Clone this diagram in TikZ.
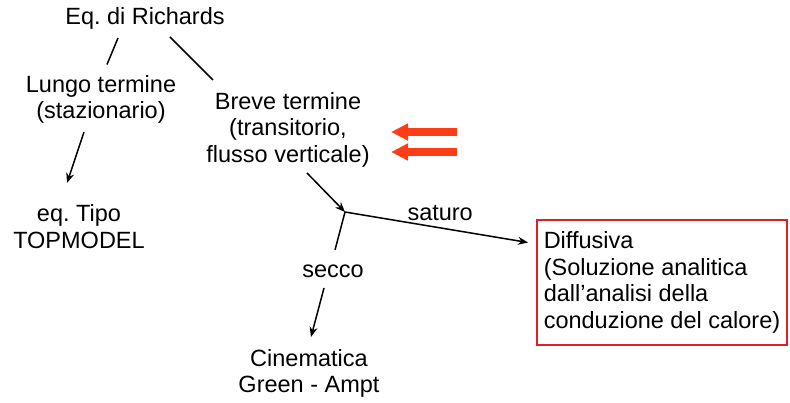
\documentclass[tikz,border=0pt]{standalone}
\usepackage{fontspec}
\setmainfont{Liberation Sans}
\usetikzlibrary{arrows.meta,calc}
\frenchspacing
\definecolor{boxred}{RGB}{222,32,36}
\definecolor{markred}{RGB}{252,62,22}
\tikzset{
  lbl/.style={font=\fontsize{23.5}{26.5}\selectfont, align=center, inner sep=0pt},
  link/.style={line width=1.5pt, black},
  arr/.style={link, -{Stealth[length=10pt,width=8pt]}},
  hilite/.style={line width=8pt, markred, -{Triangle[length=17pt,width=16pt]}},
}
\begin{document}
\begin{tikzpicture}[x=1pt,y=-1pt]
\useasboundingbox (0,0) rectangle (790,403);

% text nodes
\node[lbl] (eq)     at (145,18)    {Eq. di Richards};
\node[lbl] (lungo)  at (101,99.5)  {Lungo termine\\(stazionario)};
\node[lbl] (tipo)   at (79,226.5)  {eq. Tipo\\TOPMODEL};
\node[lbl] (breve)  at (288,129.5) {Breve termine\\(transitorio,\\flusso verticale)};
\node[lbl] (secco)  at (333,271)   {secco};
\node[lbl] (cine)   at (309,373.5) {Cinematica\\Green - Ampt};
\node[lbl, draw=boxred, line width=2pt, align=left,
      minimum width=250pt, minimum height=125pt] (diff) at (662,282.5)
  {Diffusiva\\(Soluzione analitica\\dall’analisi della\\conduzione del calore)};
\coordinate (j) at (345,212);

% connectors
\draw[link] ($(eq.center)+(-27,20)$) -- ($(lungo.center)+(6,-35)$);
\draw[link] ($(eq.center)+(25,19)$) -- ($(breve.center)+(-75,-49.5)$);
\draw[arr]  ($(lungo.center)+(-17,32.5)$) -- ($(tipo.center)+(-12,-43.5)$);
\draw[arr]  ($(breve.center)+(19,43.5)$) -- (j);
\draw[arr]  (j) -- ($(diff.west)+(-8,-40)$)
  node[lbl, pos=0.52, yshift=15pt] (satlbl) {saturo};
\draw[link] (j) -- ($(secco.center)+(2,-21)$);
\draw[arr]  ($(secco.center)+(-9,17)$) -- ($(cine.center)+(2,-36.5)$);

% highlight arrows
\draw[hilite] (457,132) -- (391,132);
\draw[hilite] (457,152) -- (391,152);
\end{tikzpicture}
\end{document}
